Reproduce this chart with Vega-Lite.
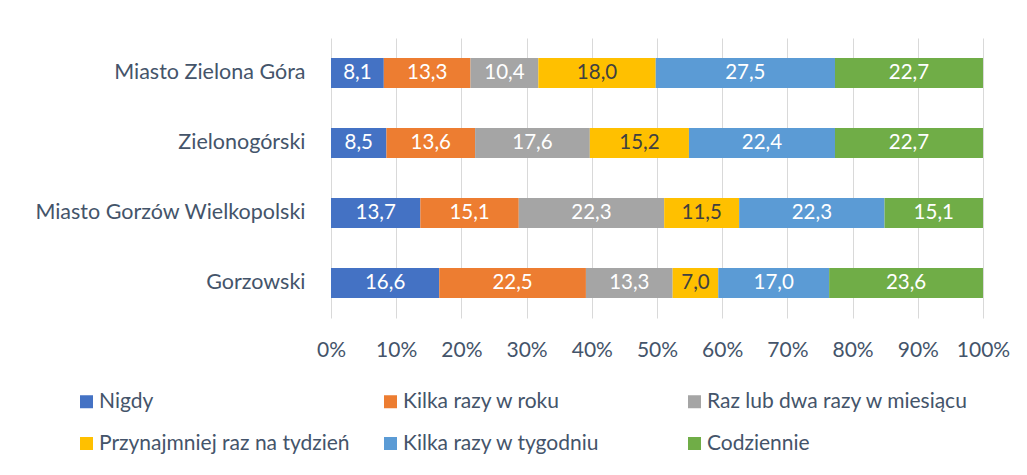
{
  "$schema": "https://vega.github.io/schema/vega-lite/v6.json",
  "autosize": {"type": "none"},
  "width": 652,
  "height": 280,
  "padding": {"left": 331, "top": 38, "right": 44, "bottom": 157},
  "background": "white",
  "config": {
    "font": "Lato",
    "view": {"stroke": null},
    "locale": {"number": {"decimal": ",", "thousands": " ", "grouping": [3], "currency": ["", " zł"]}}
  },
  "data": {"values": [
    {"region": "Miasto Zielona Góra", "s": "Nigdy", "v": 8.1},
    {"region": "Miasto Zielona Góra", "s": "Kilka razy w roku", "v": 13.3},
    {"region": "Miasto Zielona Góra", "s": "Raz lub dwa razy w miesiącu", "v": 10.4},
    {"region": "Miasto Zielona Góra", "s": "Przynajmniej raz na tydzień", "v": 18.0},
    {"region": "Miasto Zielona Góra", "s": "Kilka razy w tygodniu", "v": 27.5},
    {"region": "Miasto Zielona Góra", "s": "Codziennie", "v": 22.7},
    {"region": "Zielonogórski", "s": "Nigdy", "v": 8.5},
    {"region": "Zielonogórski", "s": "Kilka razy w roku", "v": 13.6},
    {"region": "Zielonogórski", "s": "Raz lub dwa razy w miesiącu", "v": 17.6},
    {"region": "Zielonogórski", "s": "Przynajmniej raz na tydzień", "v": 15.2},
    {"region": "Zielonogórski", "s": "Kilka razy w tygodniu", "v": 22.4},
    {"region": "Zielonogórski", "s": "Codziennie", "v": 22.7},
    {"region": "Miasto Gorzów Wielkopolski", "s": "Nigdy", "v": 13.7},
    {"region": "Miasto Gorzów Wielkopolski", "s": "Kilka razy w roku", "v": 15.1},
    {"region": "Miasto Gorzów Wielkopolski", "s": "Raz lub dwa razy w miesiącu", "v": 22.3},
    {"region": "Miasto Gorzów Wielkopolski", "s": "Przynajmniej raz na tydzień", "v": 11.5},
    {"region": "Miasto Gorzów Wielkopolski", "s": "Kilka razy w tygodniu", "v": 22.3},
    {"region": "Miasto Gorzów Wielkopolski", "s": "Codziennie", "v": 15.1},
    {"region": "Gorzowski", "s": "Nigdy", "v": 16.6},
    {"region": "Gorzowski", "s": "Kilka razy w roku", "v": 22.5},
    {"region": "Gorzowski", "s": "Raz lub dwa razy w miesiącu", "v": 13.3},
    {"region": "Gorzowski", "s": "Przynajmniej raz na tydzień", "v": 7.0},
    {"region": "Gorzowski", "s": "Kilka razy w tygodniu", "v": 17.0},
    {"region": "Gorzowski", "s": "Codziennie", "v": 23.6}
  ]},
  "transform": [
    {"calculate": "indexof(['Nigdy','Kilka razy w roku','Raz lub dwa razy w miesiącu','Przynajmniej raz na tydzień','Kilka razy w tygodniu','Codziennie'], datum.s)", "as": "k"},
    {"stack": "v", "groupby": ["region"], "sort": [{"field": "k", "order": "ascending"}], "offset": "normalize", "as": ["x0", "x1"]},
    {"calculate": "(datum.x0 + datum.x1) / 2", "as": "xm"}
  ],
  "encoding": {
    "y": {
      "field": "region", "type": "nominal", "sort": null, "title": null,
      "scale": {"paddingInner": 0.57, "paddingOuter": 0.285},
      "axis": {"domain": false, "ticks": false, "labelPadding": 26, "labelFontSize": 21.5, "labelColor": "#44546a", "labelFont": "Lato", "labelLimit": 330}
    }
  },
  "layer": [
    {
      "mark": {"type": "bar"},
      "encoding": {
        "x": {
          "field": "x0", "type": "quantitative", "title": null,
          "scale": {"domain": [0, 1], "nice": false},
          "axis": {"format": ".0%", "values": [0,0.1,0.2,0.3,0.4,0.5,0.6,0.7,0.8,0.9,1], "domain": false, "ticks": false, "grid": true, "gridColor": "#d9d9d9", "gridWidth": 1, "labelPadding": 21, "labelFontSize": 21, "labelColor": "#44546a", "labelFont": "Lato", "labelFlush": false, "labelOverlap": false}
        },
        "x2": {"field": "x1"},
        "color": {
          "field": "s", "type": "nominal", "title": null,
          "scale": {
            "domain": ["Nigdy", "Kilka razy w roku", "Raz lub dwa razy w miesiącu", "Przynajmniej raz na tydzień", "Kilka razy w tygodniu", "Codziennie"],
            "range": ["#4472c4", "#ed7d31", "#a5a5a5", "#ffc000", "#5b9bd5", "#70ad47"]
          },
          "legend": {
            "orient": "none", "legendX": -255, "legendY": 353,
            "direction": "horizontal", "columns": 3, "gridAlign": "all",
            "columnPadding": 19, "rowPadding": 20,
            "symbolType": "square", "symbolSize": 169, "symbolStrokeWidth": 0,
            "symbolOffset": 0, "labelOffset": 2,
            "labelFontSize": 21, "labelColor": "#44546a", "labelFont": "Lato", "labelLimit": 400
          }
        }
      }
    },
    {
      "mark": {"type": "text", "fontSize": 20.5, "font": "Lato", "baseline": "middle", "align": "center"},
      "encoding": {
        "x": {"field": "xm", "type": "quantitative"},
        "text": {"field": "v", "type": "quantitative", "format": ".1f"},
        "color": {
          "condition": {"test": "datum.s === 'Przynajmniej raz na tydzień'", "value": "#404040"},
          "value": "white"
        }
      }
    }
  ]
}
